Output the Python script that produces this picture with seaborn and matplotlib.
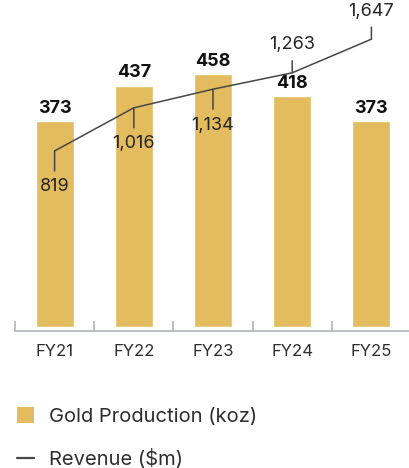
import numpy as np
import seaborn as sns
import matplotlib.pyplot as plt
from matplotlib.patches import Patch
from matplotlib.lines import Line2D

# datos
years = ['FY21', 'FY22', 'FY23', 'FY24', 'FY25']
gold_koz = [373, 437, 458, 418, 373]
revenue_m = [819, 1016, 1134, 1263, 1647]
rev_label_side = ['below', 'below', 'below', 'above', 'above']

gold_color = '#e3bc5f'
line_color = '#474747'
text_color = '#2e2e2e'
axis_color = '#a9afb4'

sns.set_style('white')
plt.rcParams['font.family'] = ['Inter', 'DejaVu Sans']

fig = plt.figure(figsize=(4.10, 4.68), dpi=100)
ax = fig.add_axes([15 / 410, 137.5 / 468, 396 / 410, 330.5 / 468])

# barras de produccion
sns.barplot(x=years, y=gold_koz, color=gold_color, saturation=1,
            width=0.48, ax=ax)
ax.set_ylim(-7, 592)
ax.set_xlim(-0.5, 4.5)
ax.bar_label(ax.containers[0], fmt='{:.0f}', padding=3,
             fontsize=13, fontweight='bold', color='#111111')

# ejes
for s in ['top', 'right', 'left']:
    ax.spines[s].set_visible(False)
ax.spines['bottom'].set_color(axis_color)
ax.spines['bottom'].set_linewidth(1.1)
ax.set_yticks([])
ax.set_ylabel('')
ax.set_xlabel('')
ax.set_xticks(np.arange(len(years)))
ax.set_xticklabels(years)
ax.tick_params(axis='x', which='major', length=0, pad=10,
               labelsize=12, labelcolor=text_color)
ax.set_xticks(np.arange(len(years)) - 0.5, minor=True)
ax.tick_params(axis='x', which='minor', bottom=True, direction='in',
               length=7, width=1.1, color=axis_color)

# linea de ingresos en eje secundario (escala comprimida arriba)
ax2 = ax.twinx()
sns.lineplot(x=np.arange(len(years)), y=revenue_m, color=line_color,
             linewidth=1.1, ax=ax2)
ax2.set_yscale('function', functions=(lambda v: -1 / v, lambda f: -1 / f))
ax2.set_ylim(453, 2552)
ax2.set_yticks([])
ax2.set_yticks([], minor=True)
ax2.set_ylabel('')
for s in ax2.spines.values():
    s.set_visible(False)

for i, (v, side) in enumerate(zip(revenue_m, rev_label_side)):
    dy = -36 if side == 'below' else 28
    ax2.annotate(f'{v:,}', xy=(i, v), xytext=(0, dy),
                 textcoords='offset pixels', ha='center', va='center',
                 fontsize=13, color='#262626',
                 arrowprops=dict(arrowstyle='-', color=line_color,
                                 linewidth=1.1, shrinkA=3, shrinkB=0))

# leyenda
handles = [Patch(facecolor=gold_color, edgecolor='none'),
           Line2D([0], [0], color=line_color, linewidth=1.6)]
labels = ['Gold Production (koz)', 'Revenue ($m)']
leg = fig.legend(handles, labels, loc='upper left',
                 bbox_to_anchor=(0.042, 0.13), frameon=False,
                 fontsize=14.5, handlelength=0.85, handleheight=0.85,
                 handletextpad=0.75, labelspacing=1.15,
                 borderaxespad=0, borderpad=0)
for t in leg.get_texts():
    t.set_color(text_color)

plt.savefig('out.png', dpi=100)
